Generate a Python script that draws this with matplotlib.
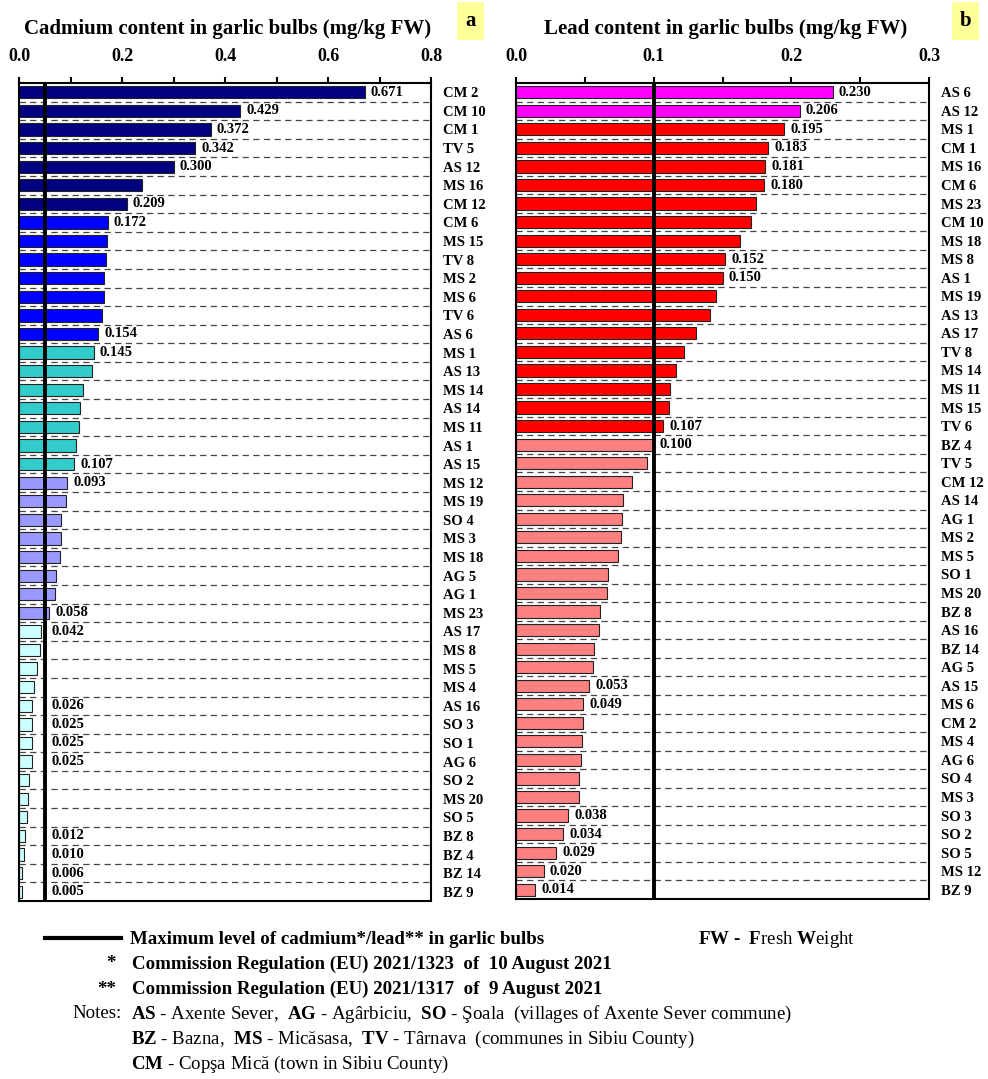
import numpy as np
import matplotlib.pyplot as plt
from matplotlib.ticker import MultipleLocator
from matplotlib.patches import Rectangle
from matplotlib.lines import Line2D

plt.rcParams['font.family'] = ['Liberation Serif', 'DejaVu Serif']
plt.rcParams['mathtext.fontset'] = 'custom'
plt.rcParams['mathtext.rm'] = 'Liberation Serif'
plt.rcParams['mathtext.bf'] = 'Liberation Serif:bold'

# cadmium, mg/kg FW (panel a)
cd_sites = ['CM 2', 'CM 10', 'CM 1', 'TV 5', 'AS 12', 'MS 16', 'CM 12', 'CM 6',
            'MS 15', 'TV 8', 'MS 2', 'MS 6', 'TV 6', 'AS 6', 'MS 1', 'AS 13',
            'MS 14', 'AS 14', 'MS 11', 'AS 1', 'AS 15', 'MS 12', 'MS 19', 'SO 4',
            'MS 3', 'MS 18', 'AG 5', 'AG 1', 'MS 23', 'AS 17', 'MS 8', 'MS 5',
            'MS 4', 'AS 16', 'SO 3', 'SO 1', 'AG 6', 'SO 2', 'MS 20', 'SO 5',
            'BZ 8', 'BZ 4', 'BZ 14', 'BZ 9']
cd_values = [0.671, 0.429, 0.372, 0.342, 0.300, 0.238, 0.209, 0.172,
             0.171, 0.168, 0.166, 0.165, 0.162, 0.154, 0.145, 0.142,
             0.125, 0.118, 0.116, 0.111, 0.107, 0.093, 0.092, 0.082,
             0.081, 0.080, 0.071, 0.069, 0.058, 0.042, 0.041, 0.035,
             0.030, 0.026, 0.025, 0.025, 0.025, 0.020, 0.018, 0.016,
             0.012, 0.010, 0.006, 0.005]
cd_labelled = ['CM 2', 'CM 10', 'CM 1', 'TV 5', 'AS 12', 'CM 12', 'CM 6', 'AS 6',
               'MS 1', 'AS 15', 'MS 12', 'MS 23', 'AS 17', 'AS 16', 'SO 3',
               'SO 1', 'AG 6', 'BZ 8', 'BZ 4', 'BZ 14', 'BZ 9']

# lead, mg/kg FW (panel b)
pb_sites = ['AS 6', 'AS 12', 'MS 1', 'CM 1', 'MS 16', 'CM 6', 'MS 23', 'CM 10',
            'MS 18', 'MS 8', 'AS 1', 'MS 19', 'AS 13', 'AS 17', 'TV 8', 'MS 14',
            'MS 11', 'MS 15', 'TV 6', 'BZ 4', 'TV 5', 'CM 12', 'AS 14', 'AG 1',
            'MS 2', 'MS 5', 'SO 1', 'MS 20', 'BZ 8', 'AS 16', 'BZ 14', 'AG 5',
            'AS 15', 'MS 6', 'CM 2', 'MS 4', 'AG 6', 'SO 4', 'MS 3', 'SO 3',
            'SO 2', 'SO 5', 'MS 12', 'BZ 9']
pb_values = [0.230, 0.206, 0.195, 0.183, 0.181, 0.180, 0.174, 0.171,
             0.163, 0.152, 0.150, 0.145, 0.141, 0.131, 0.122, 0.116,
             0.112, 0.111, 0.107, 0.100, 0.095, 0.084, 0.078, 0.077,
             0.076, 0.074, 0.067, 0.066, 0.061, 0.060, 0.057, 0.056,
             0.053, 0.049, 0.049, 0.048, 0.047, 0.046, 0.046, 0.038,
             0.034, 0.029, 0.020, 0.014]
pb_labelled = ['AS 6', 'AS 12', 'MS 1', 'CM 1', 'MS 16', 'CM 6', 'MS 8', 'AS 1',
               'TV 6', 'BZ 4', 'AS 15', 'MS 6', 'SO 3', 'SO 2', 'SO 5', 'MS 12',
               'BZ 9']

# maximum levels (EU 2021/1323 and 2021/1317)
cd_limit = 0.05
pb_limit = 0.1

# colour classes
cd_bins = [0.05, 0.10, 0.15, 0.20]
cd_palette = ['#ccffff', '#9999ff', '#33cccc', '#0000ff', '#000080']
pb_bins = [0.1, 0.2]
pb_palette = ['#ff8080', '#ff0000', '#ff00ff']

W, H = 988, 1079
fig = plt.figure(figsize=(W / 100, H / 100), dpi=100)


def fx(px):
    return px / W


def fy(py):
    return 1 - py / H


def panel(rect, sites, values, labelled, limit, bins, palette, xmax, major, minor,
          shift_labels):
    ax = fig.add_axes(rect)
    y = np.arange(len(sites))
    v = np.array(values)
    cols = [palette[i] for i in np.digitize(v, bins, right=True)]
    ax.barh(y, v, height=0.66, color=cols, edgecolor='#222222', linewidth=0.8, zorder=2)
    ax.hlines(y[:-1] + 0.5, 0, xmax, colors='#444444', linestyles=(0, (5, 3.5)),
              linewidth=0.9, zorder=1)
    ax.axvline(limit, color='black', lw=2.8, zorder=3)
    for yi, (s, val) in enumerate(zip(sites, values)):
        if s in labelled:
            xpos = max(val, limit) if shift_labels else val
            ax.annotate(f'{val:.3f}', (xpos, yi), xytext=(4.5, 0), textcoords='offset points',
                        ha='left', va='center', fontsize=10.5, fontweight='bold', zorder=4)
    ax.set_xlim(0, xmax)
    ax.set_ylim(len(sites) - 0.5, -0.5)
    ticks = np.arange(0, xmax + 1e-9, major)
    ax.set_xticks(ticks)
    ax.set_xticklabels([f'{t:.1f}' for t in ticks], fontsize=13, fontweight='bold')
    ax.xaxis.set_minor_locator(MultipleLocator(minor))
    ax.tick_params(axis='x', which='both', top=True, bottom=False, labeltop=True,
                   labelbottom=False, direction='out', length=4, width=1.5, pad=9)
    ax.set_yticks(y)
    ax.set_yticklabels(sites, fontsize=10.5, fontweight='bold')
    ax.yaxis.tick_right()
    ax.tick_params(axis='y', length=0, pad=8.5)
    for sp in ax.spines.values():
        sp.set_linewidth(1.5)
        sp.set_color('black')
    return ax


panel([fx(19), fy(901), fx(412), 818 / H], cd_sites, cd_values, cd_labelled, cd_limit,
      cd_bins, cd_palette, 0.8, 0.2, 0.1, True)
panel([fx(516), fy(899), fx(413), 816 / H], pb_sites, pb_values, pb_labelled, pb_limit,
      pb_bins, pb_palette, 0.3, 0.1, 0.05, False)

fig.text(fx(228), fy(29), 'Cadmium content in garlic bulbs (mg/kg FW)', ha='center',
         va='center', fontsize=15, fontweight='bold')
fig.text(fx(726), fy(29), 'Lead content in garlic bulbs (mg/kg FW)', ha='center',
         va='center', fontsize=15, fontweight='bold')

for x0, letter in [(457, 'a'), (952, 'b')]:
    fig.add_artist(Rectangle((fx(x0), fy(40)), 27 / W, 38 / H, transform=fig.transFigure,
                             facecolor='#ffff99', edgecolor='none'))
    fig.text(fx(x0 + 13.5), fy(21), letter, ha='center', va='center', fontsize=15,
             fontweight='bold')

# notes under the panels
fs = 13.6
fig.add_artist(Line2D([fx(45), fx(121)], [fy(938), fy(938)], color='black', lw=3,
                      transform=fig.transFigure))
fig.text(fx(130), fy(939), 'Maximum level of cadmium*/lead** in garlic bulbs', va='center',
         fontsize=fs, fontweight='bold')
fig.text(fx(698), fy(939), r'FW -  F$\mathrm{resh}$ W$\mathrm{eight}$', va='center',
         fontsize=fs, fontweight='bold')
fig.text(fx(116), fy(964), '*', ha='right', va='center', fontsize=fs, fontweight='bold')
fig.text(fx(132), fy(964), 'Commission Regulation (EU) 2021/1323  of  10 August 2021',
         va='center', fontsize=fs, fontweight='bold')
fig.text(fx(116), fy(989), '**', ha='right', va='center', fontsize=fs, fontweight='bold')
fig.text(fx(132), fy(989), 'Commission Regulation (EU) 2021/1317  of  9 August 2021',
         va='center', fontsize=fs, fontweight='bold')
fig.text(fx(72), fy(1014), 'Notes:', va='center', fontsize=fs)
fig.text(fx(131), fy(1014), r'$\mathbf{AS}$ - Axente Sever,  $\mathbf{AG}$ - Agârbiciu,  '
         r'$\mathbf{SO}$ - Şoala  (villages of Axente Sever commune)', va='center', fontsize=fs)
fig.text(fx(131), fy(1039), r'$\mathbf{BZ}$ - Bazna,  $\mathbf{MS}$ - Micăsasa,  '
         r'$\mathbf{TV}$ - Târnava  (communes in Sibiu County)', va='center', fontsize=fs)
fig.text(fx(131), fy(1064), r'$\mathbf{CM}$ - Copşa Mică (town in Sibiu County)',
         va='center', fontsize=fs)

fig.savefig('out.png', dpi=100)
